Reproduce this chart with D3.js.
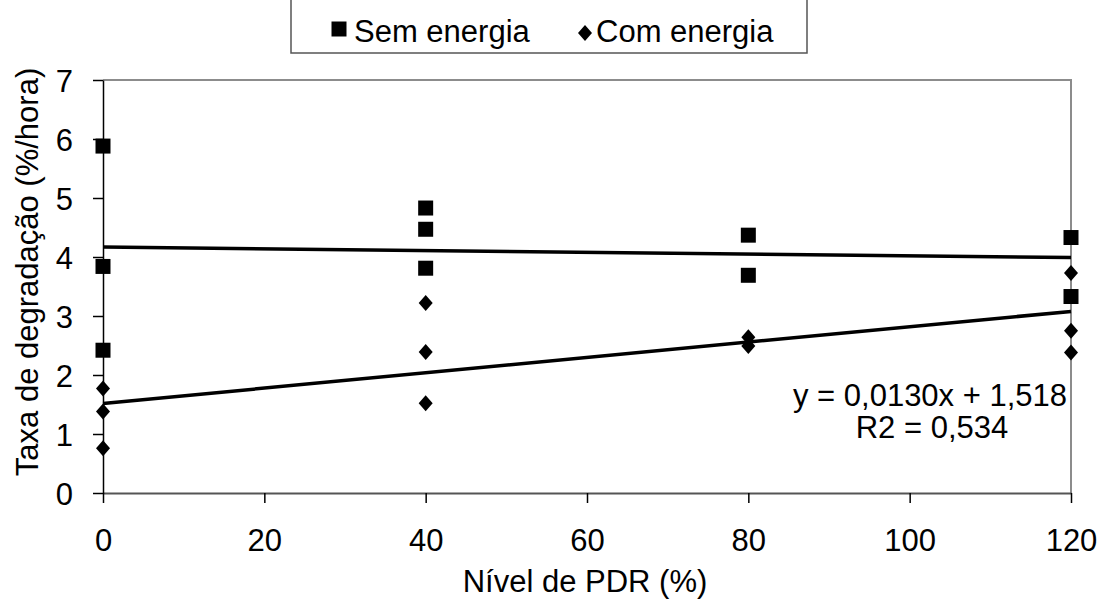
<!DOCTYPE html>
<html><head><meta charset="utf-8">
<script src="https://cdn.jsdelivr.net/npm/d3@7"></script>
<style>body{margin:0;background:#fff}svg{display:block}text{font-family:"Liberation Sans",Arial,sans-serif}</style>
</head><body><svg id="c" width="1099" height="605"></svg>
<script>
const xTicks=[0,20,40,60,80,100,120];
const yTicks=[0,1,2,3,4,5,6,7];
const semX=[0,0,0,40,40,40,80,80,120,120];
const semY=[5.88,3.84,2.42,4.83,4.47,3.81,4.37,3.69,4.33,3.33];
const comX=[0,0,0,40,40,40,80,80,120,120,120];
const comY=[1.77,1.38,0.76,3.22,2.39,1.52,2.64,2.49,3.73,2.75,2.38];
const semTrend=[4.17,-0.0015];   // intercept, slope
const comTrend=[1.518,0.0130];
const legendLabels=["Sem energia","Com energia"];
const eqLines=["y = 0,0130x + 1,518","R2 = 0,534"];
const xTitle="Nível de PDR (%)";
const yTitle="Taxa de degradação (%/hora)";

const FS=31;
const svg=d3.select("#c");
const x=d3.scaleLinear().domain([0,120]).range([103,1071]);
const y=d3.scaleLinear().domain([0,7]).range([493,80]);

// frame top/right
svg.append("path").attr("d",`M${x(0)},${y(7)}H${x(120)}V${y(0)}`).attr("fill","none").attr("stroke","#8c8c8c").attr("stroke-width",2);

const ax=svg.append("g").attr("transform",`translate(0,${y(0)})`).call(d3.axisBottom(x).tickValues(xTicks).tickSize(10).tickPadding(26).tickSizeOuter(0).tickFormat(d3.format("d")));
const ay=svg.append("g").attr("transform",`translate(${x(0)},0)`).call(d3.axisLeft(y).tickValues(yTicks).tickSize(10).tickPadding(20).tickSizeOuter(0).tickFormat(d3.format("d")));
[ax,ay].forEach(g=>{g.attr("font-family",null).attr("font-size",null);
 g.selectAll("text").attr("font-size",FS).attr("fill","#000");
 g.selectAll("line,path").attr("stroke","#000").attr("stroke-width",1.5);});
ax.select(".domain").attr("stroke","#555").attr("stroke-width",2);
ay.selectAll("text").attr("dy","0.36em");

// trend lines
const tl=(t)=>[[0,t[0]],[120,t[0]+t[1]*120]];
[semTrend,comTrend].forEach(t=>{
 svg.append("path").attr("d",d3.line().x(d=>x(d[0])).y(d=>y(d[1]))(tl(t))).attr("stroke","#000").attr("stroke-width",3.5).attr("fill","none");
});

// points
const sq=d3.symbol().type(d3.symbolSquare).size(225);
const diamondType={draw(ctx,size){const w=7,h=8;ctx.moveTo(0,-h);ctx.lineTo(w,0);ctx.lineTo(0,h);ctx.lineTo(-w,0);ctx.closePath();}};
const dm=d3.symbol().type(diamondType);
svg.append("g").selectAll("path").data(semX.map((v,i)=>[v,semY[i]])).join("path").attr("d",sq).attr("transform",d=>`translate(${x(d[0])},${y(d[1])})`).attr("fill","#000");
svg.append("g").selectAll("path").data(comX.map((v,i)=>[v,comY[i]])).join("path").attr("d",dm).attr("transform",d=>`translate(${x(d[0])},${y(d[1])})`).attr("fill","#000");

// equation
svg.append("text").attr("x",930).attr("y",406).attr("text-anchor","middle").attr("font-size",FS).text(eqLines[0]);
svg.append("text").attr("x",932).attr("y",438).attr("text-anchor","middle").attr("font-size",FS).text(eqLines[1]);

// axis titles
svg.append("text").attr("x",585).attr("y",592).attr("text-anchor","middle").attr("font-size",FS).text(xTitle);
svg.append("text").attr("transform","translate(38,272) rotate(-90)").attr("text-anchor","middle").attr("font-size",FS).text(yTitle);

// legend
svg.append("rect").attr("x",291).attr("y",-10).attr("width",516).attr("height",63).attr("fill","#fff").attr("stroke","#555").attr("stroke-width",1.5);
svg.append("path").attr("d",sq).attr("transform","translate(339,29)").attr("fill","#000");
svg.append("text").attr("x",354).attr("y",42).attr("font-size",FS).text(legendLabels[0]);
svg.append("path").attr("d",dm).attr("transform","translate(585,33)").attr("fill","#000");
svg.append("text").attr("x",596).attr("y",42).attr("font-size",FS).text(legendLabels[1]);
</script></body></html>
